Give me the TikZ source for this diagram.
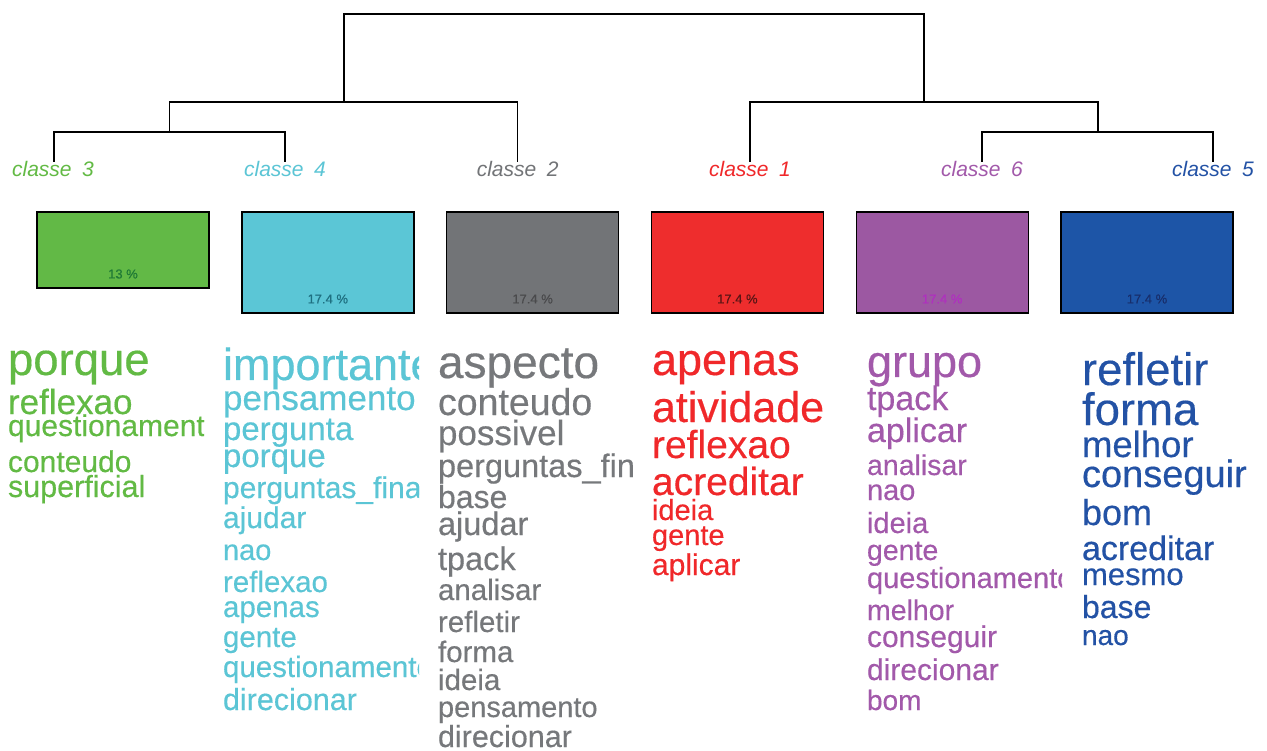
\documentclass[tikz,border=0pt]{standalone}
\usepackage{fontspec}
\setmainfont{Liberation Sans}
\newfontfamily\cloudfont[FakeBold=0.35]{Liberation Sans}

% class colours
\definecolor{cgreen}{HTML}{62B946}
\definecolor{ccyan}{HTML}{5BC6D6}
\definecolor{cgray}{HTML}{727477}
\definecolor{cred}{HTML}{EE2D2D}
\definecolor{cpurple}{HTML}{9C58A2}
\definecolor{cblue}{HTML}{1D55A7}
% word colours
\definecolor{wgreen}{HTML}{62BA44}
\definecolor{wcyan}{HTML}{5BC5D5}
\definecolor{wgray}{HTML}{76787B}
\definecolor{wred}{HTML}{F0282A}
\definecolor{wpurple}{HTML}{A259AA}
\definecolor{wblue}{HTML}{2352A5}
% percentage colours
\definecolor{pgreen}{HTML}{1F7A35}
\definecolor{pcyan}{HTML}{1E6F80}
\definecolor{pgray}{HTML}{4A4A4C}
\definecolor{pred}{HTML}{5A1515}
\definecolor{ppurple}{HTML}{B02FC0}
\definecolor{pblue}{HTML}{182E6B}

\tikzset{
  tree/.style={line width=1.7pt, draw=black},
  classlabel/.style={anchor=base, inner sep=0pt, font=\fontsize{21}{21}\selectfont\itshape},
  classbox/.style={draw=black, line width=1.4pt, anchor=north west, minimum width=172pt, inner sep=0pt, outer sep=0pt},
  pct/.style={inner sep=0pt, font=\cloudfont\fontsize{13}{13}\selectfont},
  word/.style={anchor=base west, inner sep=0pt, outer sep=0pt},
}
\newcommand\cloudword[5]{\node[word, font=\cloudfont\fontsize{#4}{#4}\selectfont] (#1) at (#2,#3) {#5};}
\newcommand\gap{\hspace{0.5em}}

\begin{document}
\begin{tikzpicture}[x=1pt, y=-1pt]
\useasboundingbox[fill=white] (0,0) rectangle (1267,751);

% ---- dendrogram ----
\node[classlabel, text=wgreen]  (l3) at (53,177)    {classe\gap 3};
\node[classlabel, text=wcyan]   (l4) at (285,177)   {classe\gap 4};
\node[classlabel, text=cgray]   (l2) at (517.6,177) {classe\gap 2};
\node[classlabel, text=wred]    (l1) at (750,177)   {classe\gap 1};
\node[classlabel, text=wpurple] (l6) at (982,177)   {classe\gap 6};
\node[classlabel, text=wblue]   (l5) at (1213,177)  {classe\gap 5};

\coordinate (t3) at (54,162);
\coordinate (t4) at (285,162);
\coordinate (t2) at (517.6,162);
\coordinate (t1) at (750,162);
\coordinate (t6) at (982,162);
\coordinate (t5) at (1213,162);
\coordinate (j34) at (169.5,132);
\coordinate (j342) at (344,102);
\coordinate (j65) at (1098,132);
\coordinate (j165) at (924,102);
\coordinate (root) at (634,14);

\draw[tree] (t3) |- (j34) -| (t4);
\draw[tree] (j34) |- (j342) -| (t2);
\draw[tree] (t6) |- (j65) -| (t5);
\draw[tree] (t1) |- (j165) -| (j65);
\draw[tree] (j342) |- (root) -| (j165);

% ---- class size boxes ----
\node[classbox, fill=cgreen,  minimum height=76pt]  (b3) at (37,212)     {};
\node[classbox, fill=ccyan,   minimum height=101pt] (b4) at (241.8,212)  {};
\node[classbox, fill=cgray,   minimum height=101pt] (b2) at (446.6,212)  {};
\node[classbox, fill=cred,    minimum height=101pt] (b1) at (651.4,212)  {};
\node[classbox, fill=cpurple, minimum height=101pt] (b6) at (856.2,212)  {};
\node[classbox, fill=cblue,   minimum height=101pt] (b5) at (1061,212)   {};

\node[pct, text=pgreen]  (p3) at (123,274)    {13 \%};
\node[pct, text=pcyan]   (p4) at (327.8,299)  {17.4 \%};
\node[pct, text=pgray]   (p2) at (532.6,299)  {17.4 \%};
\node[pct, text=pred]    (p1) at (737.4,299)  {17.4 \%};
\node[pct, text=ppurple] (p6) at (942.2,299)  {17.4 \%};
\node[pct, text=pblue]   (p5) at (1147,299)   {17.4 \%};

% ---- word lists ----
\begin{scope}[text=wgreen]
  \clip (0,330) rectangle (204,751);
  \cloudword{g1}{8}{375}{45.5}{porque}
  \cloudword{g2}{8}{414}{35}{reflexao}
  \cloudword{g3}{8}{436}{30}{questionamento}
  \cloudword{g4}{8}{472}{30}{conteudo}
  \cloudword{g5}{8}{497}{30.5}{superficial}
\end{scope}

\begin{scope}[text=wcyan]
  \clip (215,330) rectangle (419,751);
  \cloudword{c1}{223}{380}{45}{importante}
  \cloudword{c2}{223}{410}{35}{pensamento}
  \cloudword{c3}{223}{440}{33}{pergunta}
  \cloudword{c4}{223}{467}{33}{porque}
  \cloudword{c5}{223}{498}{30}{perguntas\_finais}
  \cloudword{c6}{223}{528}{30}{ajudar}
  \cloudword{c7}{223}{560}{29}{nao}
  \cloudword{c8}{223}{592}{29.5}{reflexao}
  \cloudword{c9}{223}{617}{29.5}{apenas}
  \cloudword{c10}{223}{647}{29.5}{gente}
  \cloudword{c11}{223}{677}{29.5}{questionamento}
  \cloudword{c12}{223}{710}{30.5}{direcionar}
\end{scope}

\begin{scope}[text=wgray]
  \clip (430,330) rectangle (634,751);
  \cloudword{a1}{438}{378}{46}{aspecto}
  \cloudword{a2}{438}{415}{37.5}{conteudo}
  \cloudword{a3}{438}{445}{35}{possivel}
  \cloudword{a4}{438}{477}{32.5}{perguntas\_finais}
  \cloudword{a5}{438}{508}{32}{base}
  \cloudword{a6}{438}{535}{32.5}{ajudar}
  \cloudword{a7}{438}{570}{32.5}{tpack}
  \cloudword{a8}{438}{600}{29.5}{analisar}
  \cloudword{a9}{438}{632}{29.5}{refletir}
  \cloudword{a10}{438}{662}{29.5}{forma}
  \cloudword{a11}{438}{690}{29.5}{ideia}
  \cloudword{a12}{438}{717}{29}{pensamento}
  \cloudword{a13}{438}{747}{30.5}{direcionar}
\end{scope}

\begin{scope}[text=wred]
  \clip (644,330) rectangle (850,751);
  \cloudword{r1}{652}{375}{45}{apenas}
  \cloudword{r2}{652}{422}{43}{atividade}
  \cloudword{r3}{652}{458}{39}{reflexao}
  \cloudword{r4}{652}{495}{39}{acreditar}
  \cloudword{r5}{652}{520}{29}{ideia}
  \cloudword{r6}{652}{545}{29}{gente}
  \cloudword{r7}{652}{575}{30}{aplicar}
\end{scope}

\begin{scope}[text=wpurple]
  \clip (858,330) rectangle (1062,751);
  \cloudword{u1}{867}{377}{45}{grupo}
  \cloudword{u2}{867}{410}{34}{tpack}
  \cloudword{u3}{867}{442}{34}{aplicar}
  \cloudword{u4}{867}{475}{28.5}{analisar}
  \cloudword{u5}{867}{500}{29}{nao}
  \cloudword{u6}{867}{533}{29}{ideia}
  \cloudword{u7}{867}{560}{28.5}{gente}
  \cloudword{u8}{867}{588}{29}{questionamento}
  \cloudword{u9}{867}{620}{28.5}{melhor}
  \cloudword{u10}{867}{647}{30}{conseguir}
  \cloudword{u11}{867}{680}{30}{direcionar}
  \cloudword{u12}{867}{710}{28}{bom}
\end{scope}

\begin{scope}[text=wblue]
  \clip (1072,330) rectangle (1267,751);
  \cloudword{s1}{1082}{385}{45.5}{refletir}
  \cloudword{s2}{1082}{425}{45.5}{forma}
  \cloudword{s3}{1082}{457}{36.5}{melhor}
  \cloudword{s4}{1082}{487}{38}{conseguir}
  \cloudword{s5}{1082}{525}{36}{bom}
  \cloudword{s6}{1082}{560}{34}{acreditar}
  \cloudword{s7}{1082}{585}{31}{mesmo}
  \cloudword{s8}{1082}{618}{32}{base}
  \cloudword{s9}{1082}{645}{28}{nao}
\end{scope}
\end{tikzpicture}
\end{document}
